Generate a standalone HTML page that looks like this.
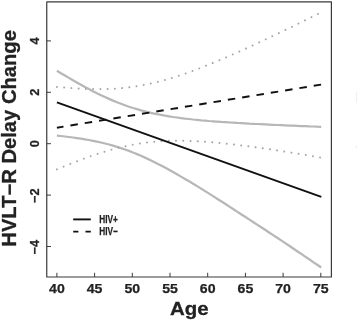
<!DOCTYPE html>
<html><head><meta charset="utf-8"><title>HVLT-R Delay Change by Age</title>
<style>
html,body{margin:0;padding:0;background:#fff}
svg{display:block}
text{font-family:"Liberation Sans",Arial,Helvetica,sans-serif;font-weight:bold;fill:#222}
.t{font-size:12.8px;stroke:#222;stroke-width:0.25px;text-anchor:middle}
.lab{font-size:18.7px;stroke:#222;stroke-width:0.3px;text-anchor:middle}
.lg{font-size:10.8px;stroke:#222;stroke-width:0.25px}
.g{fill:none;stroke:#b7b7b7;stroke-width:2.25;stroke-linecap:butt}
.d{fill:none;stroke:#a6a6a6;stroke-width:2.0;stroke-linecap:round;stroke-dasharray:0.01 7.25}
.k{fill:none;stroke:#111;stroke-width:1.95}
.dash{stroke-dasharray:7.5 7;stroke-dashoffset:0.8}
</style></head><body>
<svg width="358" height="322" viewBox="0 0 358 322">
<rect width="358" height="322" fill="#fff"/>
<rect x="46.75" y="1.9" width="284.65" height="275.1" fill="none" stroke="#3a3a3a" stroke-width="1.2" stroke-linejoin="round"/>
<path d="M56.9,277.0 v-4.2 M94.6,277.0 v-4.2 M132.3,277.0 v-4.2 M170.0,277.0 v-4.2 M207.7,277.0 v-4.2 M245.4,277.0 v-4.2 M283.1,277.0 v-4.2 M320.8,277.0 v-4.2 M46.75,40.9 h4.2 M46.75,92.3 h4.2 M46.75,143.7 h4.2 M46.75,195.1 h4.2 M46.75,246.5 h4.2 " stroke="#3a3a3a" stroke-width="1.0" fill="none"/>
<path d="M56.9,70.7 L60.9,73.2 L64.9,75.5 L68.9,77.9 L72.9,80.2 L76.9,82.5 L80.9,84.8 L84.9,87.0 L88.9,89.1 L92.9,91.2 L96.9,93.2 L101.0,95.2 L105.0,97.1 L109.0,98.9 L113.0,100.6 L117.0,102.3 L121.0,103.8 L125.0,105.3 L129.0,106.7 L133.0,108.0 L137.0,109.2 L141.0,110.4 L145.0,111.4 L149.0,112.4 L153.0,113.3 L157.0,114.2 L161.0,114.9 L165.0,115.7 L169.0,116.3 L173.0,117.0 L177.0,117.5 L181.0,118.1 L185.0,118.6 L189.1,119.0 L193.1,119.5 L197.1,119.9 L201.1,120.3 L205.1,120.6 L209.1,121.0 L213.1,121.3 L217.1,121.6 L221.1,121.9 L225.1,122.1 L229.1,122.4 L233.1,122.6 L237.1,122.9 L241.1,123.1 L245.1,123.3 L249.1,123.6 L253.1,123.8 L257.1,124.0 L261.1,124.2 L265.1,124.4 L269.1,124.6 L273.1,124.8 L277.2,125.0 L281.2,125.2 L285.2,125.4 L289.2,125.6 L293.2,125.7 L297.2,125.9 L301.2,126.1 L305.2,126.2 L309.2,126.4 L313.2,126.5 L317.2,126.7 L321.2,126.8" class="g"/>
<path d="M56.9,135.6 L60.9,136.0 L64.9,136.5 L68.9,137.0 L72.9,137.5 L76.9,138.1 L80.9,138.7 L84.9,139.3 L88.9,140.0 L92.9,140.8 L96.9,141.6 L101.0,142.5 L105.0,143.5 L109.0,144.5 L113.0,145.6 L117.0,146.8 L121.0,148.1 L125.0,149.5 L129.0,150.9 L133.0,152.5 L137.0,154.1 L141.0,155.8 L145.0,157.6 L149.0,159.4 L153.0,161.4 L157.0,163.4 L161.0,165.4 L165.0,167.6 L169.0,169.8 L173.0,172.0 L177.0,174.2 L181.0,176.6 L185.0,178.9 L189.1,181.3 L193.1,183.7 L197.1,186.1 L201.1,188.6 L205.1,191.1 L209.1,193.6 L213.1,196.1 L217.1,198.7 L221.1,201.3 L225.1,203.8 L229.1,206.4 L233.1,209.0 L237.1,211.6 L241.1,214.2 L245.1,216.8 L249.1,219.4 L253.1,222.0 L257.1,224.6 L261.1,227.2 L265.1,229.8 L269.1,232.5 L273.1,235.1 L277.2,237.8 L281.2,240.4 L285.2,243.1 L289.2,245.8 L293.2,248.5 L297.2,251.2 L301.2,253.9 L305.2,256.6 L309.2,259.3 L313.2,262.1 L317.2,264.8 L321.2,267.5" class="g"/>
<path d="M56.9,86.9 L60.9,87.3 L64.9,87.6 L68.9,88.0 L72.9,88.2 L76.9,88.5 L80.9,88.7 L84.9,88.9 L88.9,89.0 L92.9,89.1 L96.9,89.1 L101.0,89.1 L105.0,89.1 L109.0,88.9 L113.0,88.8 L117.0,88.5 L121.0,88.2 L125.0,87.8 L129.0,87.4 L133.0,86.8 L137.0,86.2 L141.0,85.6 L145.0,84.8 L149.0,84.0 L153.0,83.1 L157.0,82.1 L161.0,81.1 L165.0,80.0 L169.0,78.8 L173.0,77.6 L177.0,76.4 L181.0,75.0 L185.0,73.7 L189.1,72.2 L193.1,70.8 L197.1,69.3 L201.1,67.7 L205.1,66.1 L209.1,64.5 L213.1,62.9 L217.1,61.2 L221.1,59.5 L225.1,57.8 L229.1,56.1 L233.1,54.3 L237.1,52.5 L241.1,50.7 L245.1,48.9 L249.1,47.1 L253.1,45.2 L257.1,43.4 L261.1,41.5 L265.1,39.6 L269.1,37.7 L273.1,35.8 L277.2,33.9 L281.2,32.0 L285.2,30.0 L289.2,28.1 L293.2,26.2 L297.2,24.2 L301.2,22.2 L305.2,20.3 L309.2,18.3 L313.2,16.3 L317.2,14.3 L321.2,12.4" class="d"/>
<path d="M56.9,169.4 L60.9,167.7 L64.9,166.1 L68.9,164.4 L72.9,162.9 L76.9,161.3 L80.9,159.8 L84.9,158.3 L88.9,156.8 L92.9,155.4 L96.9,154.1 L101.0,152.8 L105.0,151.6 L109.0,150.4 L113.0,149.2 L117.0,148.2 L121.0,147.2 L125.0,146.3 L129.0,145.4 L133.0,144.6 L137.0,143.9 L141.0,143.3 L145.0,142.7 L149.0,142.2 L153.0,141.8 L157.0,141.5 L161.0,141.2 L165.0,141.0 L169.0,140.8 L173.0,140.7 L177.0,140.7 L181.0,140.7 L185.0,140.8 L189.1,140.9 L193.1,141.1 L197.1,141.3 L201.1,141.5 L205.1,141.8 L209.1,142.1 L213.1,142.4 L217.1,142.8 L221.1,143.1 L225.1,143.6 L229.1,144.0 L233.1,144.4 L237.1,144.9 L241.1,145.4 L245.1,145.9 L249.1,146.4 L253.1,147.0 L257.1,147.5 L261.1,148.1 L265.1,148.7 L269.1,149.2 L273.1,149.8 L277.2,150.4 L281.2,151.1 L285.2,151.7 L289.2,152.3 L293.2,152.9 L297.2,153.6 L301.2,154.2 L305.2,154.9 L309.2,155.6 L313.2,156.2 L317.2,156.9 L321.2,157.6" class="d"/>
<path d="M56.9,102.3 L321.3,196.9" class="k"/>
<path d="M56.9,127.7 L321.2,84.6" class="k dash"/>
<path d="M356.5,92 V103 M356.5,145 V148.5" stroke="#f1f1f1" stroke-width="1.2" fill="none"/>
<path d="M73.2,219.4 H90.8" class="k" style="stroke-width:1.9"/>
<path d="M73.2,231.6 H78.4 M85.5,231.6 H90.8" class="k" style="stroke-width:1.9"/>
<text x="99.2" y="223.4" class="lg" textLength="18.6" lengthAdjust="spacingAndGlyphs">HIV+</text>
<text x="99.2" y="235.4" class="lg" textLength="18.6" lengthAdjust="spacingAndGlyphs">HIV−</text>
<text x="56.9" y="292.9" class="t" style="font-size:13.1px" textLength="15.7" lengthAdjust="spacingAndGlyphs">40</text>
<text x="94.6" y="292.9" class="t" style="font-size:13.1px" textLength="15.7" lengthAdjust="spacingAndGlyphs">45</text>
<text x="132.3" y="292.9" class="t" style="font-size:13.1px" textLength="15.7" lengthAdjust="spacingAndGlyphs">50</text>
<text x="170.0" y="292.9" class="t" style="font-size:13.1px" textLength="15.7" lengthAdjust="spacingAndGlyphs">55</text>
<text x="207.7" y="292.9" class="t" style="font-size:13.1px" textLength="15.7" lengthAdjust="spacingAndGlyphs">60</text>
<text x="245.4" y="292.9" class="t" style="font-size:13.1px" textLength="15.7" lengthAdjust="spacingAndGlyphs">65</text>
<text x="283.1" y="292.9" class="t" style="font-size:13.1px" textLength="15.7" lengthAdjust="spacingAndGlyphs">70</text>
<text x="320.8" y="292.9" class="t" style="font-size:13.1px" textLength="15.7" lengthAdjust="spacingAndGlyphs">75</text>
<text transform="translate(39.2,40.9) rotate(-90)" class="t">4</text>
<text transform="translate(39.2,92.3) rotate(-90)" class="t">2</text>
<text transform="translate(39.2,143.7) rotate(-90)" class="t">0</text>
<text transform="translate(39.2,195.8) rotate(-90)" class="t">−2</text>
<text transform="translate(39.2,247.2) rotate(-90)" class="t">−4</text>
<text x="189.3" y="314.8" class="lab" textLength="38.6" lengthAdjust="spacingAndGlyphs">Age</text>
<text transform="translate(16.2,138.4) rotate(-90)" class="lab" style="font-size:19.3px" textLength="216.6" lengthAdjust="spacingAndGlyphs">HVLT−R Delay Change</text>
</svg>
</body></html>
